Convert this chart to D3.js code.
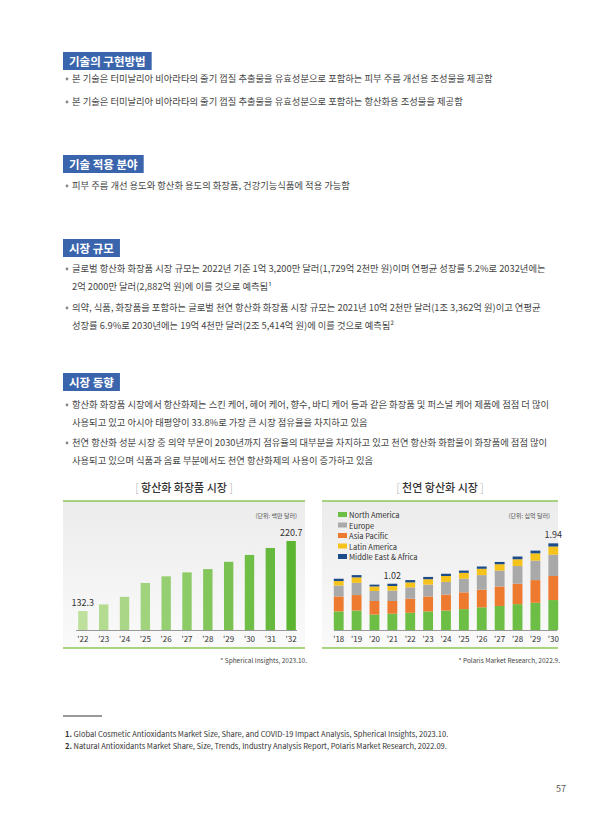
<!DOCTYPE html>
<html><head><meta charset="utf-8">
<script src="https://cdn.jsdelivr.net/npm/d3@7"></script>
<style>body{margin:0;background:#fff}text{font-family:"Noto Sans CJK KR","Noto Sans",sans-serif}</style>
</head><body><svg id="s" width="614" height="830"></svg>
<script>
const years1=["'22","'23","'24","'25","'26","'27","'28","'29","'30","'31","'32"];
const values1=[132.3,140.6,150.2,167.7,176.1,181.1,185.2,194.4,203.1,211.9,220.7];
const years2=["'18","'19","'20","'21","'22","'23","'24","'25","'26","'27","'28","'29","'30"];
const regions=["North America","Europe","Asia Pacific","Latin America","Middle East & Africa"];
const northAmerica=[0.41,0.43,0.34,0.36,0.38,0.41,0.43,0.46,0.50,0.53,0.57,0.60,0.66];
const europe=[0.24,0.27,0.22,0.23,0.25,0.26,0.28,0.30,0.32,0.35,0.39,0.43,0.47];
const asiaPacific=[0.33,0.34,0.30,0.28,0.31,0.33,0.35,0.37,0.39,0.43,0.45,0.50,0.53];
const latinAmerica=[0.10,0.12,0.10,0.10,0.11,0.12,0.13,0.13,0.14,0.14,0.15,0.16,0.18];
const middleEast=[0.05,0.05,0.04,0.05,0.05,0.05,0.05,0.05,0.05,0.05,0.06,0.06,0.07];
const colors=["#6cbe45","#a9a9a9","#ee7a2f","#f6c21c","#1d4c8a"];

const svg=d3.select("#s");
const blue="#3a65ad", txt="#444";
function header(y,label){const r=svg.append("rect").attr("x",63).attr("y",y).attr("height",18).attr("fill",blue);
 const t=svg.append("text").attr("x",69).attr("y",y+13.5).attr("fill","#fff").attr("font-size",11.5).attr("font-weight",700).text(label);
 r.attr("width",t.node().getComputedTextLength()+12);}
function bullet(y,lines){svg.append("circle").attr("cx",67).attr("cy",y-3).attr("r",1.4).attr("fill","#888");
 lines.forEach((l,i)=>svg.append("text").attr("x",72).attr("y",y+i*18).attr("font-size",9.3).attr("fill",txt).attr("textLength",null).text(l));}
header(52,"기술의 구현방법");
bullet(82,["본 기술은 터미날리아 비아라타의 줄기 껍질 추출물을 유효성분으로 포함하는 피부 주름 개선용 조성물을 제공함"]);
bullet(105,["본 기술은 터미날리아 비아라타의 줄기 껍질 추출물을 유효성분으로 포함하는 항산화용 조성물을 제공함"]);
header(155,"기술 적용 분야");
bullet(189,["피부 주름 개선 용도와 항산화 용도의 화장품, 건강기능식품에 적용 가능함"]);
header(239,"시장 규모");
bullet(272,["글로벌 항산화 화장품 시장 규모는 2022년 기준 1억 3,200만 달러(1,729억 2천만 원)이며 연평균 성장률 5.2%로 2032년에는","2억 2000만 달러(2,882억 원)에 이를 것으로 예측됨¹"]);
bullet(311,["의약, 식품, 화장품을 포함하는 글로벌 천연 항산화 화장품 시장 규모는 2021년 10억 2천만 달러(1조 3,362억 원)이고 연평균","성장률 6.9%로 2030년에는 19억 4천만 달러(2조 5,414억 원)에 이를 것으로 예측됨²"]);
header(373,"시장 동향");
bullet(408,["항산화 화장품 시장에서 항산화제는 스킨 케어, 헤어 케어, 향수, 바디 케어 등과 같은 화장품 및 퍼스널 케어 제품에 점점 더 많이","사용되고 있고 아시아 태평양이 33.8%로 가장 큰 시장 점유율을 차지하고 있음"]);
bullet(446,["천연 항산화 성분 시장 중 의약 부문이 2030년까지 점유율의 대부분을 차지하고 있고 천연 항산화 화합물이 화장품에 점점 많이","사용되고 있으며 식품과 음료 부분에서도 천연 항산화제의 사용이 증가하고 있음"]);

const defs=svg.append("defs");
const g=defs.append("linearGradient").attr("id","bg").attr("x1",0).attr("y1",0).attr("x2",0).attr("y2",1);
g.append("stop").attr("offset",0).attr("stop-color","#ececec");g.append("stop").attr("offset",1).attr("stop-color","#fafafa");
function panel(x0,x1,title,src){
 svg.append("rect").attr("x",x0).attr("y",501).attr("width",x1-x0).attr("height",147).attr("fill","url(#bg)");
 [501,648].forEach(y=>svg.append("line").attr("x1",x0).attr("x2",x1).attr("y1",y).attr("y2",y).attr("stroke","#8dc75a").attr("stroke-width",1.5));
 const t=svg.append("text").attr("x",(x0+x1)/2).attr("y",492).attr("text-anchor","middle").attr("font-size",11).attr("font-weight",500).attr("fill","#333");
 t.append("tspan").attr("fill","#aaa").attr("font-weight",300).text("[ ");t.append("tspan").text(title);t.append("tspan").attr("fill","#aaa").attr("font-weight",300).text(" ]");
 svg.append("text").attr("x",x1-8).attr("y",518).attr("text-anchor","end").attr("font-size",6).attr("fill","#555").text(src[0]);
 svg.append("text").attr("x",x1+2).attr("y",663).attr("text-anchor","end").attr("font-size",6.5).attr("fill","#444").text(src[1]);
}
panel(63,305,"항산화 화장품 시장",["(단위: 백만 달러)","* Spherical Insights, 2023.10."]);
panel(322,558,"천연 항산화 시장",["(단위: 십억 달러)","* Polaris Market Research, 2022.9."]);

const x1=d3.scaleBand().domain(years1).range([74,300]).paddingInner(0.55).paddingOuter(0.2);
const y1=d3.scaleLinear().domain([108.3,220.7]).range([630,541]);
const cg=d3.scaleLinear().domain([0,10]).range(["#bde09c","#5cb531"]);
svg.selectAll(".b1").data(values1).join("rect").attr("x",(d,i)=>x1(years1[i])).attr("width",x1.bandwidth())
 .attr("y",d=>y1(d)).attr("height",d=>630-y1(d)).attr("fill",(d,i)=>cg(i));
svg.append("line").attr("x1",76).attr("x2",297).attr("y1",630.5).attr("y2",630.5).attr("stroke","#999");
const ax1=svg.append("g").attr("transform","translate(0,630)").call(d3.axisBottom(x1).tickSize(0).tickPadding(6));
ax1.select(".domain").remove();ax1.selectAll("text").attr("font-size",8).attr("fill","#333").attr("font-family","Noto Sans");
[0,10].forEach(i=>svg.append("text").attr("x",x1(years1[i])+x1.bandwidth()/2).attr("y",y1(values1[i])-5).attr("text-anchor","middle").attr("font-size",9).attr("fill","#333").attr("font-family","Noto Sans").text(values1[i].toFixed(1)));

const series=[northAmerica,europe,asiaPacific,latinAmerica,middleEast];
const order=[0,2,1,3,4];
const rows=years2.map((y,i)=>{const r={year:y};regions.forEach((k,j)=>r[k]=series[j][i]);return r;});
const stack=d3.stack().keys(order.map(j=>regions[j]))(rows);
const x2=d3.scaleBand().domain(years2).range([332,560]).paddingInner(0.45).paddingOuter(0.1);
const y2=d3.scaleLinear().domain([0,1.94]).range([630,542]);
stack.forEach((s,si)=>svg.selectAll(".s"+si).data(s).join("rect").attr("x",d=>x2(d.data.year)).attr("width",x2.bandwidth())
 .attr("y",d=>y2(d[1])).attr("height",d=>y2(d[0])-y2(d[1])).attr("fill",colors[order[si]]));
svg.append("line").attr("x1",334).attr("x2",557).attr("y1",630.5).attr("y2",630.5).attr("stroke","#999");
const ax2=svg.append("g").attr("transform","translate(0,630)").call(d3.axisBottom(x2).tickSize(0).tickPadding(6));
ax2.select(".domain").remove();ax2.selectAll("text").attr("font-size",8).attr("fill","#333").attr("font-family","Noto Sans");
const tot=i=>series.reduce((a,s)=>a+s[i],0);
[[3,"1.02"],[12,"1.94"]].forEach(([i,l])=>svg.append("text").attr("x",x2(years2[i])+x2.bandwidth()/2).attr("y",y2(tot(i))-5).attr("text-anchor","middle").attr("font-size",9).attr("fill","#333").attr("font-family","Noto Sans").text(l));
regions.forEach((r,i)=>{svg.append("rect").attr("x",338).attr("y",512+i*10.5).attr("width",9).attr("height",5).attr("fill",colors[i]);
 svg.append("text").attr("x",349).attr("y",518+i*10.5).attr("font-size",7.5).attr("fill","#333").attr("font-family","Noto Sans").text(r);});

svg.append("line").attr("x1",63).attr("x2",102).attr("y1",716).attr("y2",716).attr("stroke","#999").attr("stroke-width",2);
[["1.","Global Cosmetic Antioxidants Market Size, Share, and COVID-19 Impact Analysis, Spherical Insights, 2023.10."],
 ["2.","Natural Antioxidants Market Share, Size, Trends, Industry Analysis Report, Polaris Market Research, 2022.09."]].forEach((f,i)=>{
 const t=svg.append("text").attr("x",65).attr("y",737+i*12).attr("font-size",7.5).attr("fill","#333").attr("font-family","Noto Sans");
 t.append("tspan").attr("font-weight",700).text(f[0]+" ");t.append("tspan").text(f[1]);});
svg.append("text").attr("x",566).attr("y",792).attr("text-anchor","end").attr("font-size",9).attr("fill","#555").attr("font-family","Noto Sans").text("57");
</script></body></html>
